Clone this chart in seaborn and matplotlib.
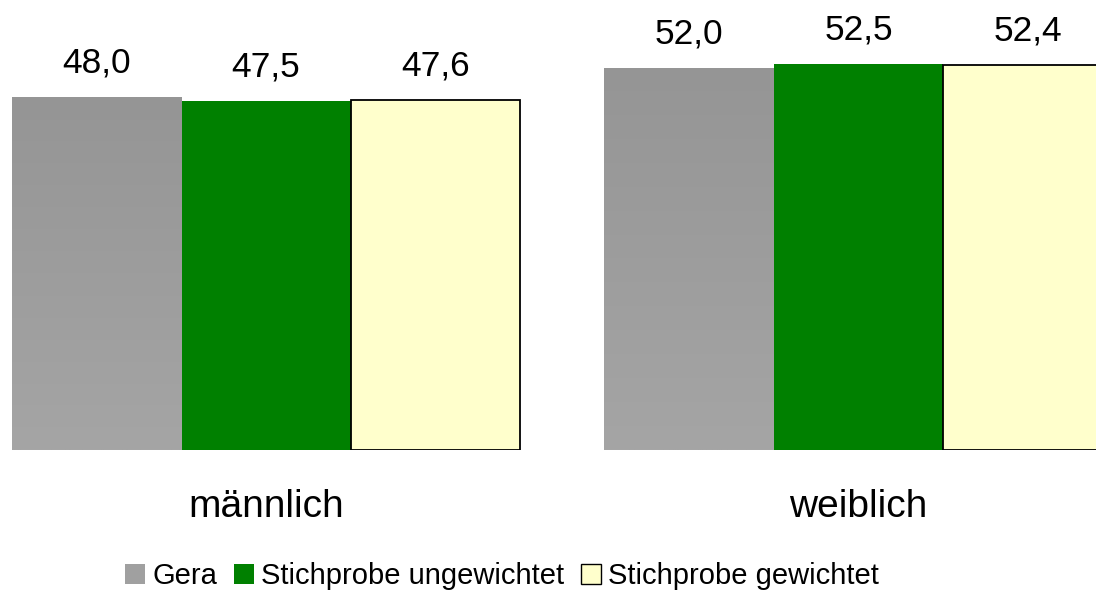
import numpy as np
import pandas as pd
import matplotlib
matplotlib.use("Agg")
import matplotlib.pyplot as plt
from matplotlib.patches import Patch
from matplotlib.colors import LinearSegmentedColormap
import seaborn as sns

categories = ["männlich", "weiblich"]
series = ["Gera", "Stichprobe ungewichtet", "Stichprobe gewichtet"]
gera = [48.0, 52.0]
ungewichtet = [47.5, 52.5]
gewichtet = [47.6, 52.4]

colors = {"Gera": "#9E9E9E", "Stichprobe ungewichtet": "#008000",
          "Stichprobe gewichtet": "#FFFFCC"}

sns.set_theme(style="white")
plt.rcParams["font.family"] = ["Liberation Sans", "DejaVu Sans"]
plt.rcParams["text.color"] = "black"

rows = []
for s, vals in zip(series, [gera, ungewichtet, gewichtet]):
    for c, v in zip(categories, vals):
        rows.append({"Geschlecht": c, "Serie": s, "Wert": v})
df = pd.DataFrame(rows)

fig = plt.figure(figsize=(10.96, 5.92), dpi=100)
ax = fig.add_axes([0, 0.2399, 1, 0.7601])

sns.barplot(data=df, x="Geschlecht", y="Wert", hue="Serie", order=categories,
            hue_order=series, palette=colors, width=0.858, gap=0,
            saturation=1, legend=False, ax=ax)

# styling of bars
for p in ax.containers[0]:
    p.set_edgecolor("none")
for p in ax.containers[1]:
    p.set_edgecolor("none")
for p in ax.containers[2]:
    p.set_edgecolor("black")
    p.set_linewidth(1.3)

# gradient for gray bars
cmap = LinearSegmentedColormap.from_list("g", ["#959595", "#A5A5A5"])
grad = np.linspace(0, 1, 256).reshape(-1, 1)
for p in ax.containers[0]:
    x0, y0 = p.get_x(), p.get_y()
    w, h = p.get_width(), p.get_height()
    im = ax.imshow(grad, cmap=cmap, aspect="auto", origin="upper",
                   extent=[x0, x0 + w, y0, y0 + h], zorder=p.get_zorder() + 0.1)
    im.set_clip_path(p)

# value labels
for cont, vals in zip(ax.containers, [gera, ungewichtet, gewichtet]):
    ax.bar_label(cont, labels=[f"{v:.1f}".replace(".", ",") for v in vals],
                 padding=12.5, fontsize=25.5, color="black")

ax.set_xlim(-0.449, 1.4008)
ax.set_ylim(0, 61.19)
ax.set_xlabel("")
ax.set_ylabel("")
ax.set_yticks([])
ax.tick_params(axis="x", length=0, pad=28, labelsize=28, labelcolor="black")
for sp in ax.spines.values():
    sp.set_visible(False)

handles = [Patch(facecolor="#A0A0A0", edgecolor="none"),
           Patch(facecolor="#008000", edgecolor="none"),
           Patch(facecolor="#FFFFCC", edgecolor="black", linewidth=1.0)]
fig.legend(handles, series, loc="center", bbox_to_anchor=(0.458, 0.027),
           ncol=3, frameon=False, fontsize=21, labelcolor="black",
           handlelength=0.685, handleheight=0.685, handletextpad=0.24,
           columnspacing=0.58, borderpad=0, borderaxespad=0)

fig.savefig("out.png", dpi=100)
